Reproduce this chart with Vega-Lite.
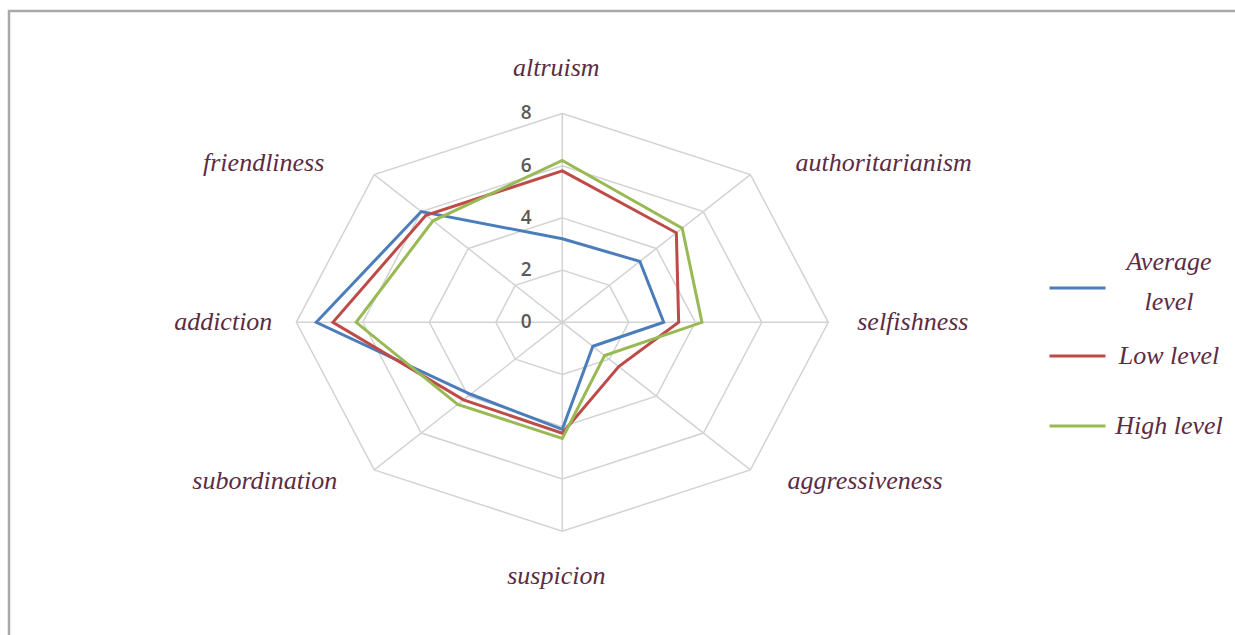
{
  "$schema": "https://vega.github.io/schema/vega-lite/v6.json",
  "width": 1226,
  "height": 624,
  "autosize": "none",
  "padding": {"left": 9, "top": 11, "right": 0, "bottom": 0},
  "background": "white",
  "config": {"view": {"stroke": "#a9a9a9", "strokeWidth": 2.5, "strokeDash": [1226, 1850, 624]}},
  "datasets": {
    "scores": [
      {"series": "Average level", "axis": "altruism", "value": 3.2},
      {"series": "Average level", "axis": "authoritarianism", "value": 3.3},
      {"series": "Average level", "axis": "selfishness", "value": 3.05},
      {"series": "Average level", "axis": "aggressiveness", "value": 1.3},
      {"series": "Average level", "axis": "suspicion", "value": 4.1},
      {"series": "Average level", "axis": "subordination", "value": 3.9},
      {"series": "Average level", "axis": "addiction", "value": 7.4},
      {"series": "Average level", "axis": "friendliness", "value": 6.0},
      {"series": "Low level", "axis": "altruism", "value": 5.8},
      {"series": "Low level", "axis": "authoritarianism", "value": 4.85},
      {"series": "Low level", "axis": "selfishness", "value": 3.5},
      {"series": "Low level", "axis": "aggressiveness", "value": 2.4},
      {"series": "Low level", "axis": "suspicion", "value": 4.25},
      {"series": "Low level", "axis": "subordination", "value": 4.2},
      {"series": "Low level", "axis": "addiction", "value": 6.9},
      {"series": "Low level", "axis": "friendliness", "value": 5.8},
      {"series": "High level", "axis": "altruism", "value": 6.2},
      {"series": "High level", "axis": "authoritarianism", "value": 5.1},
      {"series": "High level", "axis": "selfishness", "value": 4.2},
      {"series": "High level", "axis": "aggressiveness", "value": 1.8},
      {"series": "High level", "axis": "suspicion", "value": 4.45},
      {"series": "High level", "axis": "subordination", "value": 4.45},
      {"series": "High level", "axis": "addiction", "value": 6.2},
      {"series": "High level", "axis": "friendliness", "value": 5.5}
    ],
    "axes": [
      {"axis": "altruism", "k": 0, "levels": [2, 4, 6, 8]},
      {"axis": "authoritarianism", "k": 1, "levels": [2, 4, 6, 8]},
      {"axis": "selfishness", "k": 2, "levels": [2, 4, 6, 8]},
      {"axis": "aggressiveness", "k": 3, "levels": [2, 4, 6, 8]},
      {"axis": "suspicion", "k": 4, "levels": [2, 4, 6, 8]},
      {"axis": "subordination", "k": 5, "levels": [2, 4, 6, 8]},
      {"axis": "addiction", "k": 6, "levels": [2, 4, 6, 8]},
      {"axis": "friendliness", "k": 7, "levels": [2, 4, 6, 8]}
    ],
    "ticks": [
      {"level": 0}, {"level": 2}, {"level": 4}, {"level": 6}, {"level": 8}
    ]
  },
  "layer": [
    {
      "data": {"name": "axes"},
      "transform": [
        {"flatten": ["levels"], "as": ["level"]},
        {"calculate": "datum.k * PI / 4", "as": "a"},
        {"calculate": "datum.level * sin(datum.a)", "as": "px"},
        {"calculate": "datum.level * cos(datum.a)", "as": "py"}
      ],
      "mark": {"type": "line", "interpolate": "linear-closed", "stroke": "#d3d3d3", "strokeWidth": 1.5},
      "encoding": {
        "x": {"field": "px", "type": "quantitative", "scale": {"domain": [-16.641, 20.232], "nice": false, "zero": false}, "axis": null},
        "y": {"field": "py", "type": "quantitative", "scale": {"domain": [-11.981, 11.927], "nice": false, "zero": false}, "axis": null},
        "detail": {"field": "level", "type": "nominal"},
        "order": {"field": "k", "type": "quantitative"}
      }
    },
    {
      "data": {"name": "axes"},
      "transform": [
        {"calculate": "datum.k * PI / 4", "as": "a"},
        {"calculate": "8 * sin(datum.a)", "as": "ex"},
        {"calculate": "8 * cos(datum.a)", "as": "ey"},
        {"calculate": "0", "as": "px"},
        {"calculate": "0", "as": "py"}
      ],
      "mark": {"type": "rule", "stroke": "#d3d3d3", "strokeWidth": 1.5},
      "encoding": {
        "x": {"field": "px", "type": "quantitative", "scale": {"domain": [-16.641, 20.232], "nice": false, "zero": false}, "axis": null},
        "y": {"field": "py", "type": "quantitative", "scale": {"domain": [-11.981, 11.927], "nice": false, "zero": false}, "axis": null},
        "x2": {"field": "ex"},
        "y2": {"field": "ey"}
      }
    },
    {
      "data": {"name": "ticks"},
      "transform": [
        {"calculate": "0", "as": "px"}
      ],
      "mark": {"type": "text", "dx": -36, "align": "center", "baseline": "middle", "font": "Open Sans", "fontSize": 19, "fontWeight": 600, "fill": "#595959"},
      "encoding": {
        "x": {"field": "px", "type": "quantitative", "scale": {"domain": [-16.641, 20.232], "nice": false, "zero": false}, "axis": null},
        "y": {"field": "level", "type": "quantitative", "scale": {"domain": [-11.981, 11.927], "nice": false, "zero": false}, "axis": null},
        "text": {"field": "level", "type": "quantitative"}
      }
    },
    {
      "data": {"name": "scores"},
      "transform": [
        {"calculate": "indexof(['altruism','authoritarianism','selfishness','aggressiveness','suspicion','subordination','addiction','friendliness'], datum.axis)", "as": "k"},
        {"calculate": "datum.k * PI / 4", "as": "a"},
        {"calculate": "datum.value * sin(datum.a)", "as": "px"},
        {"calculate": "datum.value * cos(datum.a)", "as": "py"}
      ],
      "mark": {"type": "line", "interpolate": "linear-closed", "strokeWidth": 3},
      "encoding": {
        "x": {"field": "px", "type": "quantitative", "scale": {"domain": [-16.641, 20.232], "nice": false, "zero": false}, "axis": null},
        "y": {"field": "py", "type": "quantitative", "scale": {"domain": [-11.981, 11.927], "nice": false, "zero": false}, "axis": null},
        "order": {"field": "k", "type": "quantitative"},
        "color": {
          "field": "series",
          "type": "nominal",
          "scale": {"domain": ["Average level", "Low level", "High level"], "range": ["#4a7dba", "#be4b48", "#98b954"]},
          "legend": {
            "orient": "none",
            "legendX": 1039,
            "legendY": 263,
            "title": null,
            "symbolType": "stroke",
            "symbolSize": 3136,
            "symbolStrokeWidth": 3,
            "labelFont": "Liberation Serif",
            "labelFontStyle": "italic",
            "labelFontSize": 26,
            "labelColor": "#5c2c44",
            "labelAlign": "center",
            "labelOffset": 62,
            "labelLimit": 0,
            "rowPadding": 27,
            "labelExpr": "datum.label == 'Average level' ? ['Average', 'level'] : datum.label",
            "encode": {
              "symbols": {"update": {"y": {"signal": "datum.index == 2 ? 30 : 14"}}},
              "labels": {"update": {"y": {"signal": "datum.index == 2 ? 30 : 14"}, "lineHeight": {"value": 40}, "dy": {"signal": "datum.value == 'Average level' ? -26 : 0"}}}
            }
          }
        }
      }
    },
    {
      "data": {"name": "axes"},
      "transform": [
        {"filter": "datum.k == 0 || datum.k == 4"},
        {"calculate": "datum.k * PI / 4", "as": "a"},
        {"calculate": "0", "as": "px"},
        {"calculate": "9.73 * cos(datum.a)", "as": "py"}
      ],
      "mark": {"type": "text", "align": "center", "baseline": "middle", "dx": -6, "font": "Liberation Serif", "fontStyle": "italic", "fontSize": 26, "fill": "#5c2c44"},
      "encoding": {
        "x": {"field": "px", "type": "quantitative", "scale": {"domain": [-16.641, 20.232], "nice": false, "zero": false}, "axis": null},
        "y": {"field": "py", "type": "quantitative", "scale": {"domain": [-11.981, 11.927], "nice": false, "zero": false}, "axis": null},
        "text": {"field": "axis", "type": "nominal"}
      }
    },
    {
      "data": {"name": "axes"},
      "transform": [
        {"filter": "datum.k >= 1 && datum.k <= 3"},
        {"calculate": "datum.k * PI / 4", "as": "a"},
        {"calculate": "sin(datum.a) * [0, 9.92, 8.87, 9.58, 0, 9.57, 8.72, 10.12][datum.k]", "as": "px"},
        {"calculate": "cos(datum.a) * (datum.k % 2 == 1 ? 8.62 : 8.6)", "as": "py"}
      ],
      "mark": {"type": "text", "align": "left", "baseline": "middle", "font": "Liberation Serif", "fontStyle": "italic", "fontSize": 26, "fill": "#5c2c44"},
      "encoding": {
        "x": {"field": "px", "type": "quantitative", "scale": {"domain": [-16.641, 20.232], "nice": false, "zero": false}, "axis": null},
        "y": {"field": "py", "type": "quantitative", "scale": {"domain": [-11.981, 11.927], "nice": false, "zero": false}, "axis": null},
        "text": {"field": "axis", "type": "nominal"}
      }
    },
    {
      "data": {"name": "axes"},
      "transform": [
        {"filter": "datum.k >= 5"},
        {"calculate": "datum.k * PI / 4", "as": "a"},
        {"calculate": "sin(datum.a) * [0, 9.92, 8.87, 9.58, 0, 9.57, 8.72, 10.12][datum.k]", "as": "px"},
        {"calculate": "cos(datum.a) * (datum.k % 2 == 1 ? 8.62 : 8.6)", "as": "py"}
      ],
      "mark": {"type": "text", "align": "right", "baseline": "middle", "font": "Liberation Serif", "fontStyle": "italic", "fontSize": 26, "fill": "#5c2c44"},
      "encoding": {
        "x": {"field": "px", "type": "quantitative", "scale": {"domain": [-16.641, 20.232], "nice": false, "zero": false}, "axis": null},
        "y": {"field": "py", "type": "quantitative", "scale": {"domain": [-11.981, 11.927], "nice": false, "zero": false}, "axis": null},
        "text": {"field": "axis", "type": "nominal"}
      }
    }
  ]
}
